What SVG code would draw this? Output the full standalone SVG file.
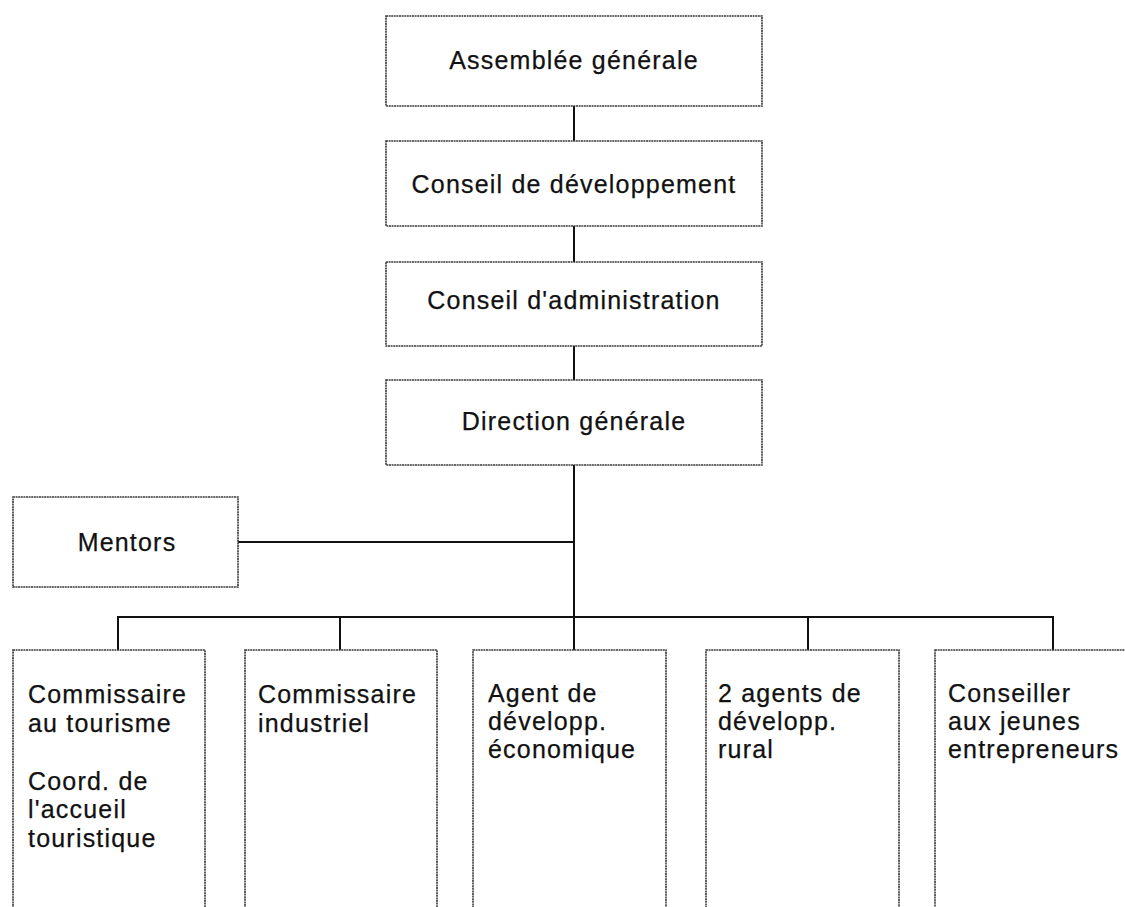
<svg xmlns="http://www.w3.org/2000/svg" width="1125" height="907" viewBox="0 0 1125 907">
<style>
.box{fill:#fff;stroke:#3a3a3a;stroke-width:1.6;stroke-dasharray:2 0.6}
.t{font-family:"Liberation Sans",Arial,sans-serif;font-size:25px;letter-spacing:1.2px;fill:#111;stroke:#111;stroke-width:0.25}
.c{text-anchor:middle}
.ln{fill:none;stroke:#111;stroke-width:2}
</style>
<rect width="1125" height="907" fill="#fff"/>
<g id="connectors">
<path class="ln" d="M574 106V141M574 226V262M574 346V380M574 465V617M238 542H574"/>
<path class="ln" d="M118 650V617H1053V650M340 617V650M574 617V650M808 617V650"/>
</g>
<g id="n1"><rect class="box" x="386" y="16" width="376" height="90"/><text class="t c" x="574" y="69">Assemblée générale</text></g>
<g id="n2"><rect class="box" x="386" y="141" width="376" height="85"/><text class="t c" x="574" y="193">Conseil de développement</text></g>
<g id="n3"><rect class="box" x="386" y="262" width="376" height="84"/><text class="t c" x="574" y="309">Conseil d'administration</text></g>
<g id="n4"><rect class="box" x="386" y="380" width="376" height="85"/><text class="t c" x="574" y="430">Direction générale</text></g>
<g id="n5"><rect class="box" x="13" y="497" width="225" height="90"/><text class="t c" x="127" y="551">Mentors</text></g>
<g id="n6"><rect class="box" x="13" y="650" width="192" height="300"/>
<text class="t" x="28" y="703">Commissaire</text><text class="t" x="28" y="732">au tourisme</text>
<text class="t" x="28" y="790">Coord. de</text><text class="t" x="28" y="818">l'accueil</text><text class="t" x="28" y="847">touristique</text></g>
<g id="n7"><rect class="box" x="245" y="650" width="192" height="300"/>
<text class="t" x="258" y="703">Commissaire</text><text class="t" x="258" y="732">industriel</text></g>
<g id="n8"><rect class="box" x="473" y="650" width="193" height="300"/>
<text class="t" x="488" y="702">Agent de</text><text class="t" x="488" y="730">développ.</text><text class="t" x="488" y="758">économique</text></g>
<g id="n9"><rect class="box" x="706" y="650" width="193" height="300"/>
<text class="t" x="718" y="702">2 agents de</text><text class="t" x="718" y="730">développ.</text><text class="t" x="718" y="758">rural</text></g>
<g id="n10"><rect class="box" x="935" y="650" width="200" height="300"/>
<text class="t" x="948" y="702">Conseiller</text><text class="t" x="948" y="730">aux jeunes</text><text class="t" x="948" y="758">entrepreneurs</text></g>
</svg>
